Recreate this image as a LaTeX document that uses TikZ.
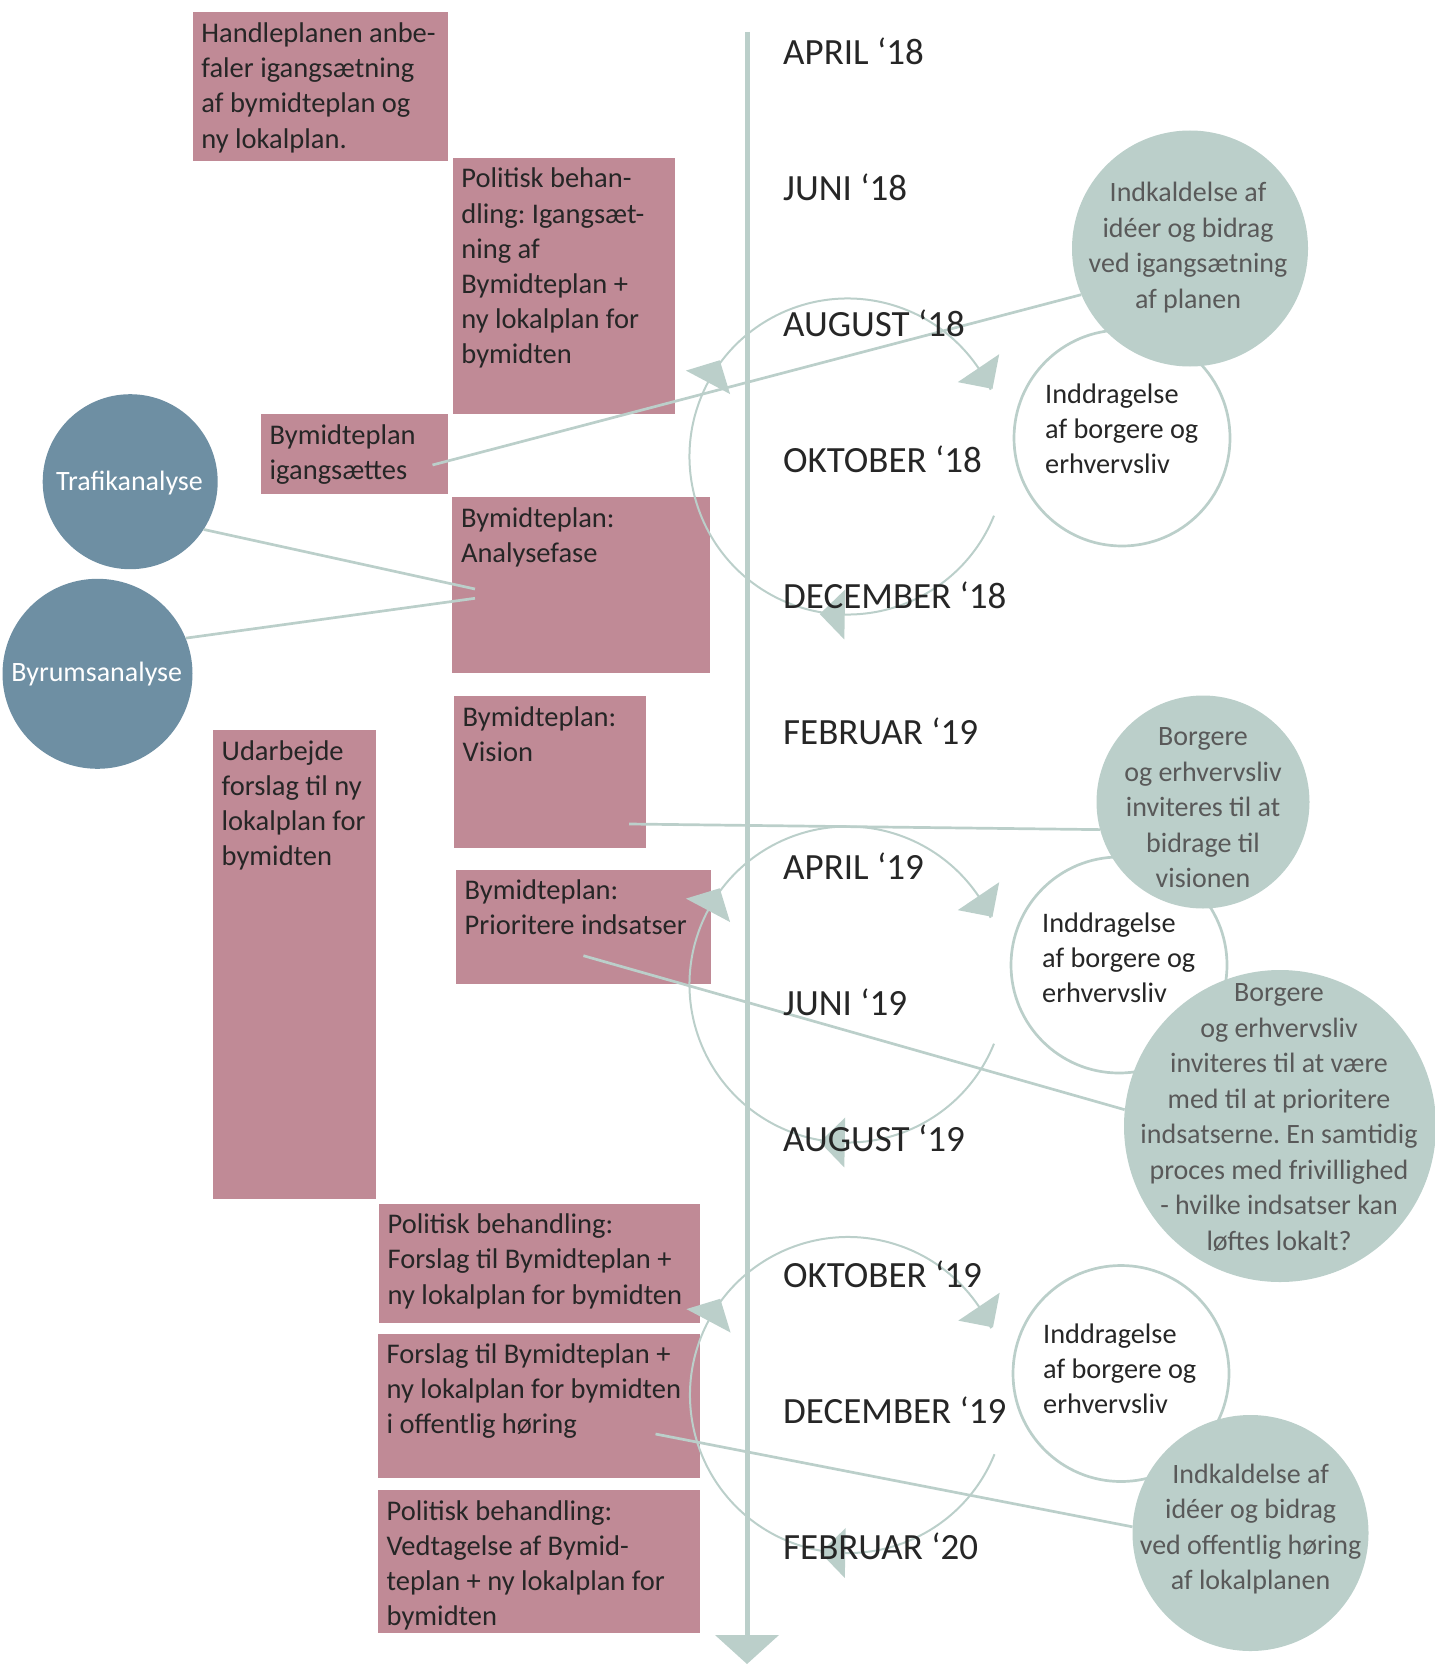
\documentclass[tikz,border=0pt]{standalone}
\usepackage{fontspec}
\setmainfont{Carlito}
\usetikzlibrary{calc}
\definecolor{sage}{HTML}{BBCFCA}
\definecolor{mauve}{HTML}{C08A96}
\definecolor{slate}{HTML}{6E8FA3}
\definecolor{ink}{HTML}{262626}
\definecolor{grayink}{HTML}{595959}
\newcommand{\drawcycle}[1]{%
  \draw[cycarc] ($(#1)+(22:158)$) arc[start angle=22, end angle=335, radius=158];
  \foreach \a in {-34,-152,91} {
    \fill[sage] ($(#1)+(\a:133)$) -- ($(#1)+(\a:183)$) -- ($(#1)+(\a:158)+(\a+90:25)$) -- cycle;
  }%
}
\begin{document}
\frenchspacing
\begin{tikzpicture}[x=1pt,y=-1pt,
  mbox/.style={fill=mauve, draw=none, inner sep=0, outer sep=0, anchor=north west},
  btxt/.style={anchor=base west, inner sep=0, text=ink, font=\frenchspacing\fontsize{28.5}{35.2}\selectfont},
  mlab/.style={anchor=base west, inner sep=0, text=ink, font=\fontsize{37}{40}\selectfont},
  sagec/.style={circle, fill=sage, draw=none, inner sep=0},
  ringc/.style={circle, draw=sage, line width=2.7pt, fill=white, inner sep=0},
  bluec/.style={circle, fill=slate, draw=none, inner sep=0},
  ctxt/.style={anchor=base, inner sep=0, text=grayink, font=\frenchspacing\fontsize{28}{35.5}\selectfont},
  rtxt/.style={anchor=base west, inner sep=0, text=ink, font=\fontsize{28.3}{35}\selectfont},
  wtxt/.style={anchor=base, inner sep=0, text=white, font=\fontsize{28}{34}\selectfont},
  conn/.style={draw=sage, line width=2.7pt},
  cycarc/.style={draw=sage, line width=2pt},
]
\useasboundingbox (0,0) rectangle (1434,1664);

% ---- boxes
\node[mbox, minimum width=255.6, minimum height=148.7] (b1) at (192.7,12) {};
\node[mbox, minimum width=222, minimum height=256] (b2) at (452.7,158) {};
\node[mbox, minimum width=186.7, minimum height=79.7] (b3) at (261,414) {};
\node[mbox, minimum width=257.7, minimum height=176] (b4) at (452.3,497.3) {};
\node[mbox, minimum width=192, minimum height=152.3] (b5) at (454,696) {};
\node[mbox, minimum width=163, minimum height=469] (b6) at (213,730) {};
\node[mbox, minimum width=255, minimum height=114.3] (b7) at (456,870) {};
\node[mbox, minimum width=321, minimum height=118.7] (b8) at (379,1204) {};
\node[mbox, minimum width=322, minimum height=144.3] (b9) at (378,1334) {};
\node[mbox, minimum width=322, minimum height=142.5] (b10) at (378,1490) {};

% ---- cycles
\coordinate (cy1) at (847.5,456.5);
\coordinate (cy2) at (847.5,984.5);
\coordinate (cy3) at (848,1395);
\drawcycle{cy1}
\drawcycle{cy2}
\drawcycle{cy3}

% ---- timeline
\coordinate (tl0) at (747,32);
\coordinate (tl1) at (747,1636);
\draw[draw=sage, line width=5pt] (tl0) -- (tl1);
\fill[sage] (715,1635) -- (779,1635) -- (747,1664) -- cycle;

% ---- circles
\node[bluec, minimum size=175] (ct) at (130.2,481.7) {};
\node[bluec, minimum size=190] (cb) at (97.5,673.8) {};
\node[ringc, minimum size=216] (r1) at (1122,438) {};
\node[ringc, minimum size=216] (r2) at (1119,965) {};
\node[ringc, minimum size=216] (r3) at (1121,1373.5) {};
\node[sagec, minimum size=236] (c1) at (1190,248.5) {};
\node[sagec, minimum size=213] (c2) at (1203,802) {};
\node[sagec, minimum size=312] (c3) at (1280,1126) {};
\node[sagec, minimum size=236] (c4) at (1250.5,1533) {};

% ---- connectors
\coordinate (p3) at (432.5,465);
\coordinate (p4a) at (475,589);
\coordinate (p4b) at (475,598.3);
\coordinate (p5) at (629,824);
\coordinate (p7) at (583.4,955.7);
\coordinate (p9) at (655.5,1434);
\draw[conn] (p3) -- (c1.203.4);
\draw[conn] (ct.-33.6) -- (p4a);
\draw[conn] (cb.22.6) -- (p4b);
\draw[conn] (p5) -- (c2.195);
\draw[conn] (p7) -- (c3.174.7);
\draw[conn] (p9) -- (c4.177.3);

% ---- box texts
\node[btxt] (t1) at ($(b1.north west)+(8.5,30.5)$) {\begin{tabular}[t]{@{}l@{}}Handleplanen anbe-\\faler igangsætning\\af bymidteplan og\\ny lokalplan.\end{tabular}};
\node[btxt] (t2) at ($(b2.north west)+(8.5,30)$) {\begin{tabular}[t]{@{}l@{}}Politisk behan-\\dling: Igangsæt-\\ning af\\Bymidteplan +\\ny lokalplan for\\bymidten\end{tabular}};
\node[btxt] (t3) at ($(b3.north west)+(8.5,30.3)$) {\begin{tabular}[t]{@{}l@{}}Bymidteplan\\igangsættes\end{tabular}};
\node[btxt] (t4) at ($(b4.north west)+(8.5,30)$) {\begin{tabular}[t]{@{}l@{}}Bymidteplan:\\Analysefase\end{tabular}};
\node[btxt] (t5) at ($(b5.north west)+(8.5,30)$) {\begin{tabular}[t]{@{}l@{}}Bymidteplan:\\Vision\end{tabular}};
\node[btxt] (t6) at ($(b6.north west)+(8.5,30)$) {\begin{tabular}[t]{@{}l@{}}Udarbejde\\forslag til ny\\lokalplan for\\bymidten\end{tabular}};
\node[btxt] (t7) at ($(b7.north west)+(8.5,29.5)$) {\begin{tabular}[t]{@{}l@{}}Bymidteplan:\\Prioritere indsatser\end{tabular}};
\node[btxt] (t8) at ($(b8.north west)+(8.5,29.6)$) {\begin{tabular}[t]{@{}l@{}}Politisk behandling:\\Forslag til Bymidteplan +\\ny lokalplan for bymidten\end{tabular}};
\node[btxt] (t9) at ($(b9.north west)+(8.5,29.5)$) {\begin{tabular}[t]{@{}l@{}}Forslag til Bymidteplan +\\ny lokalplan for bymidten\\i offentlig høring\end{tabular}};
\node[btxt] (t10) at ($(b10.north west)+(8.5,30)$) {\begin{tabular}[t]{@{}l@{}}Politisk behandling:\\Vedtagelse af Bymid-\\teplan + ny lokalplan for\\bymidten\end{tabular}};

% ---- circle texts
\node[wtxt] (tt) at (129.5,490) {Trafikanalyse};
\node[wtxt] (tb) at (96.7,681.7) {Byrumsanalyse};
\node[ctxt] (tc1) at (1188,201.7) {\begin{tabular}[t]{@{}c@{}}Indkaldelse af\\idéer og bidrag\\ved igangsætning\\af planen\end{tabular}};
\node[ctxt] (tc2) at (1203,745.7) {\begin{tabular}[t]{@{}c@{}}Borgere\\og erhvervsliv\\inviteres til at\\bidrage til\\visionen\end{tabular}};
\node[ctxt] (tc3) at (1279,1001.7) {\begin{tabular}[t]{@{}c@{}}Borgere\\og erhvervsliv\\inviteres til at være\\med til at prioritere\\indsatserne. En samtidig\\proces med frivillighed\\- hvilke indsatser kan\\løftes lokalt?\end{tabular}};
\node[ctxt] (tc4) at (1250.6,1483) {\begin{tabular}[t]{@{}c@{}}Indkaldelse af\\idéer og bidrag\\ved offentlig høring\\af lokalplanen\end{tabular}};
\node[rtxt] (tr1) at (1045,403) {\begin{tabular}[t]{@{}l@{}}Inddragelse\\af borgere og\\erhvervsliv\end{tabular}};
\node[rtxt] (tr2) at (1042,932) {\begin{tabular}[t]{@{}l@{}}Inddragelse\\af borgere og\\erhvervsliv\end{tabular}};
\node[rtxt] (tr3) at (1043,1343) {\begin{tabular}[t]{@{}l@{}}Inddragelse\\af borgere og\\erhvervsliv\end{tabular}};

% ---- month labels
\node[mlab] (m1) at (783,64.5) {APRIL ‘18};
\node[mlab] (m2) at (783,200.5) {JUNI ‘18};
\node[mlab] (m3) at (783,336.3) {AUGUST ‘18};
\node[mlab] (m4) at (783,472.2) {OKTOBER ‘18};
\node[mlab] (m5) at (783,608.1) {DECEMBER ‘18};
\node[mlab] (m6) at (783,744) {FEBRUAR ‘19};
\node[mlab] (m7) at (783,879.9) {APRIL ‘19};
\node[mlab] (m8) at (783,1015.8) {JUNI ‘19};
\node[mlab] (m9) at (783,1151.7) {AUGUST ‘19};
\node[mlab] (m10) at (783,1287.5) {OKTOBER ‘19};
\node[mlab] (m11) at (783,1423.5) {DECEMBER ‘19};
\node[mlab] (m12) at (783,1559.3) {FEBRUAR ‘20};
\end{tikzpicture}
\end{document}
